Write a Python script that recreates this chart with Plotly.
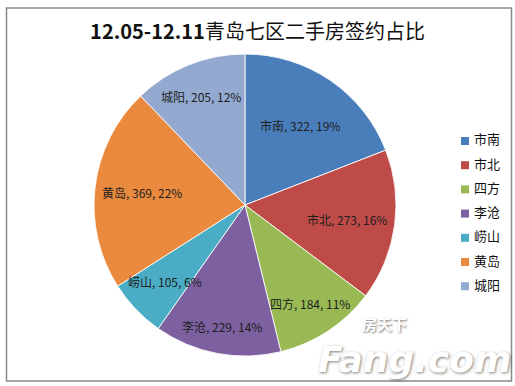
import math
import plotly.graph_objects as go

# ---- data ----
districts = ["市南", "市北", "四方", "李沧", "崂山", "黄岛", "城阳"]
deals = [322, 273, 184, 229, 105, 369, 205]
colors = ["#4A7EBB", "#BE4B48", "#98B954", "#7D60A0", "#4AACC5", "#E98A3E", "#93A9CF"]
title_latin = "12.05-12.11"
title_cjk = "青岛七区二手房签约占比"

# ---- layout parameters (pixels of the 515x386 canvas) ----
W, H = 515, 386
CX, CY, R = 245, 205, 151
label_r = [0.64, 0.685, 0.78, 0.82, 0.735, 0.69, 0.775]   # radial placement of in-slice labels
FONT = "Noto Sans CJK SC, Noto Sans, sans-serif"

def px(x):
    return x / W

def py(y):
    return 1 - y / H

fig = go.Figure()
fig.add_trace(go.Pie(
    labels=districts,
    values=deals,
    sort=False,
    direction="clockwise",
    rotation=0,
    marker=dict(colors=colors, line=dict(color="rgba(255,255,255,0.85)", width=1)),
    textinfo="none",
    hoverinfo="label+value+percent",
    showlegend=False,
    domain=dict(x=[px(CX - R), px(CX + R)], y=[py(CY + R), py(CY - R)]),
))

annotations = []
total = sum(deals)
cum = 0
for name, v, rf in zip(districts, deals, label_r):
    mid = (cum + v / 2) / total
    cum += v
    th = 2 * math.pi * mid
    x = CX + rf * R * math.sin(th)
    y = CY - rf * R * math.cos(th)
    pct = round(v / total * 100)
    annotations.append(dict(
        x=px(x), y=py(y), xref="paper", yref="paper",
        text=f"{name}, {v}, {pct}%", showarrow=False,
        xanchor="center", yanchor="middle",
        font=dict(family=FONT, size=12, color="#1e1e1e"),
    ))

# legend (manual, to match spacing and small square markers)
shapes = []
LX, LY0, LDY = 461, 141, 24.2
for i, (name, c) in enumerate(zip(districts, colors)):
    yc = LY0 + i * LDY
    shapes.append(dict(type="rect", xref="paper", yref="paper",
                       x0=px(LX), x1=px(LX + 8), y0=py(yc + 4), y1=py(yc - 4),
                       fillcolor=c, line=dict(width=0)))
    annotations.append(dict(
        x=px(LX + 11), y=py(yc - 2), xref="paper", yref="paper",
        text=name, showarrow=False, xanchor="left", yanchor="middle",
        font=dict(family=FONT, size=13, color="#111111"),
    ))

# outer chart border
shapes.append(dict(type="rect", xref="paper", yref="paper",
                   x0=px(6.5), x1=px(511.5), y0=py(381), y1=py(8),
                   line=dict(color="#8a8a8a", width=1.5), fillcolor="rgba(0,0,0,0)", layer="below"))

# watermark
annotations.append(dict(
    x=px(414), y=py(359), xref="paper", yref="paper",
    text="<b><i>Fang.com</i></b>", showarrow=False, xanchor="center", yanchor="middle",
    font=dict(family="DejaVu Sans, sans-serif", size=36, color="white",
              shadow="1px 1px 3px rgba(0,0,0,0.5)"),
))
annotations.append(dict(
    x=px(384), y=py(323), xref="paper", yref="paper",
    text="<b>房天下</b>", showarrow=False, xanchor="center", yanchor="middle",
    font=dict(family=FONT, size=15, color="white",
              shadow="1px 1px 2px rgba(0,0,0,0.5)"),
))

fig.update_layout(
    width=W, height=H,
    margin=dict(l=0, r=0, t=0, b=0),
    paper_bgcolor="white",
    plot_bgcolor="white",
    title=dict(
        text=f"<b>{title_latin}</b>{title_cjk}",
        x=0.5, xanchor="center", y=py(32), yanchor="middle",
        font=dict(family=FONT, size=20, color="#111111"),
    ),
    annotations=annotations,
    shapes=shapes,
)

fig.write_html("out.html", config={"displayModeBar": False},
               post_script="document.body.style.margin='0px';document.body.style.overflow='hidden';")
